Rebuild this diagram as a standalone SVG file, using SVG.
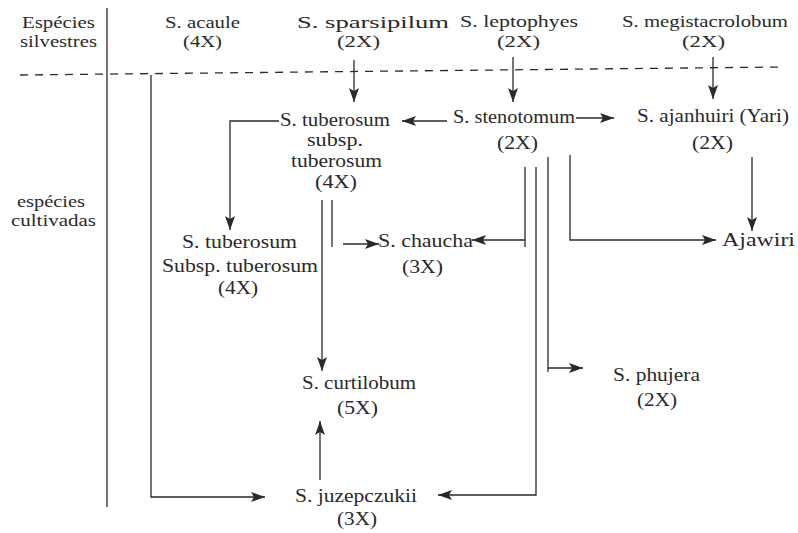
<svg xmlns="http://www.w3.org/2000/svg" width="798" height="533" viewBox="0 0 798 533">
<style>
text{font-family:'Liberation Serif','Times New Roman',Times,serif;font-size:18px;fill:#2a2a2a}
.t{font-size:17px}
.c{fill:none;stroke:#2a2a2a;stroke-width:1.3}
.d{fill:none;stroke:#2a2a2a;stroke-width:1.3;stroke-dasharray:8 7}
</style>
<defs>
<marker id="ah" markerUnits="userSpaceOnUse" markerWidth="15" markerHeight="11" refX="14" refY="5" orient="auto">
<path d="M0,0 L14,5 L0,10 L3,5 z" fill="#2a2a2a"/>
</marker>
</defs>
<rect width="798" height="533" fill="#ffffff"/>
<g id="connectors">
<path class="c" d="M107,8 V507"/>
<path class="d" d="M20,75 L782,67"/>
<path class="c" d="M151,75 V497 H265" marker-end="url(#ah)"/>
<path class="c" d="M354,60 V102" marker-end="url(#ah)"/>
<path class="c" d="M513,57 V102" marker-end="url(#ah)"/>
<path class="c" d="M713,57 V99" marker-end="url(#ah)"/>
<path class="c" d="M447,121 H402" marker-end="url(#ah)"/>
<path class="c" d="M576,118 H614" marker-end="url(#ah)"/>
<path class="c" d="M279,121 H230 V230" marker-end="url(#ah)"/>
<path class="c" d="M322,200 V371" marker-end="url(#ah)"/>
<path class="c" d="M332,200 V247"/>
<path class="c" d="M343,244 H379" marker-end="url(#ah)"/>
<path class="c" d="M525,167 V247"/>
<path class="c" d="M525,240 H472" marker-end="url(#ah)"/>
<path class="c" d="M536,167 V495 H438" marker-end="url(#ah)"/>
<path class="c" d="M548,157 V372"/>
<path class="c" d="M548,368 H583" marker-end="url(#ah)"/>
<path class="c" d="M570,155 V240 H716" marker-end="url(#ah)"/>
<path class="c" d="M752,157 V231" marker-end="url(#ah)"/>
<path class="c" d="M320,480 V421" marker-end="url(#ah)"/>
</g>
<g id="label-silvestres">
<text class="t" x="22" y="28" textLength="73" lengthAdjust="spacingAndGlyphs">Espécies</text>
<text class="t" x="20" y="47" textLength="77" lengthAdjust="spacingAndGlyphs">silvestres</text>
</g>
<g id="label-cultivadas">
<text class="t" x="17" y="207" textLength="68" lengthAdjust="spacingAndGlyphs">espécies</text>
<text class="t" x="11" y="226" textLength="85" lengthAdjust="spacingAndGlyphs">cultivadas</text>
</g>
<g id="acaule">
<text class="t" x="165" y="28" textLength="75" lengthAdjust="spacingAndGlyphs">S. acaule</text>
<text class="t" x="183" y="47" textLength="39" lengthAdjust="spacingAndGlyphs">(4X)</text>
</g>
<g id="sparsipilum">
<text class="t" x="297" y="28" textLength="152" lengthAdjust="spacingAndGlyphs">S. sparsipilum</text>
<text class="t" x="337" y="47" textLength="43" lengthAdjust="spacingAndGlyphs">(2X)</text>
</g>
<g id="leptophyes">
<text class="t" x="460" y="27" textLength="118" lengthAdjust="spacingAndGlyphs">S. leptophyes</text>
<text class="t" x="497" y="47" textLength="43" lengthAdjust="spacingAndGlyphs">(2X)</text>
</g>
<g id="megistacrolobum">
<text class="t" x="622" y="27" textLength="166" lengthAdjust="spacingAndGlyphs">S. megistacrolobum</text>
<text class="t" x="682" y="47" textLength="43" lengthAdjust="spacingAndGlyphs">(2X)</text>
</g>
<g id="tuberosum-subsp">
<text x="280" y="126" textLength="110" lengthAdjust="spacingAndGlyphs">S. tuberosum</text>
<text x="307" y="146" textLength="56" lengthAdjust="spacingAndGlyphs">subsp.</text>
<text x="291" y="167" textLength="91" lengthAdjust="spacingAndGlyphs">tuberosum</text>
<text x="315" y="188" textLength="42" lengthAdjust="spacingAndGlyphs">(4X)</text>
</g>
<g id="stenotomum">
<text x="453" y="123" textLength="122" lengthAdjust="spacingAndGlyphs">S. stenotomum</text>
<text x="497" y="149" textLength="41" lengthAdjust="spacingAndGlyphs">(2X)</text>
</g>
<g id="ajanhuiri">
<text x="637" y="122" textLength="152" lengthAdjust="spacingAndGlyphs">S. ajanhuiri (Yari)</text>
<text x="692" y="149" textLength="41" lengthAdjust="spacingAndGlyphs">(2X)</text>
</g>
<g id="tuberosum-Subsp">
<text x="182" y="248" textLength="115" lengthAdjust="spacingAndGlyphs">S. tuberosum</text>
<text x="162" y="272" textLength="156" lengthAdjust="spacingAndGlyphs">Subsp. tuberosum</text>
<text x="218" y="294" textLength="40" lengthAdjust="spacingAndGlyphs">(4X)</text>
</g>
<g id="chaucha">
<text x="378" y="247" textLength="95" lengthAdjust="spacingAndGlyphs">S. chaucha</text>
<text x="402" y="273" textLength="41" lengthAdjust="spacingAndGlyphs">(3X)</text>
</g>
<g id="ajawiri">
<text x="722" y="246" textLength="73" lengthAdjust="spacingAndGlyphs">Ajawiri</text>
</g>
<g id="phujera">
<text x="613" y="381" textLength="87" lengthAdjust="spacingAndGlyphs">S. phujera</text>
<text x="637" y="406" textLength="40" lengthAdjust="spacingAndGlyphs">(2X)</text>
</g>
<g id="curtilobum">
<text x="302" y="389" textLength="114" lengthAdjust="spacingAndGlyphs">S. curtilobum</text>
<text x="337" y="414" textLength="41" lengthAdjust="spacingAndGlyphs">(5X)</text>
</g>
<g id="juzepczukii">
<text x="295" y="502" textLength="122" lengthAdjust="spacingAndGlyphs">S. juzepczukii</text>
<text x="337" y="525" textLength="40" lengthAdjust="spacingAndGlyphs">(3X)</text>
</g>
</svg>
